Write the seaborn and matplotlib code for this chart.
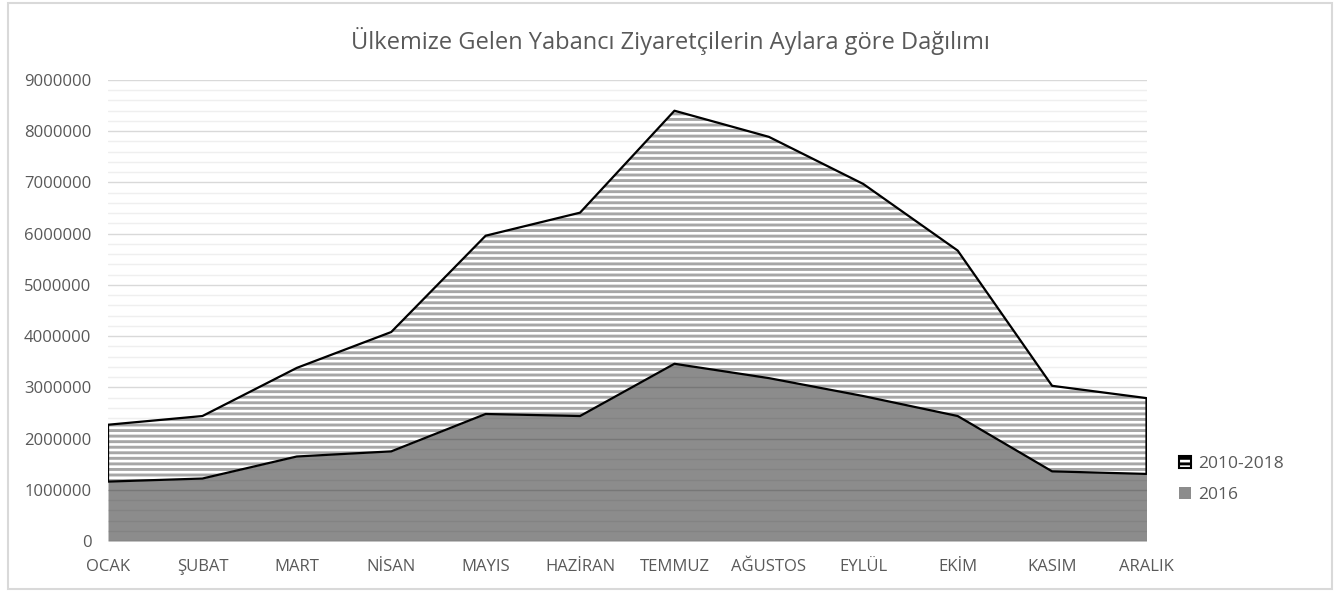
import matplotlib
matplotlib.use("Agg")
import matplotlib.pyplot as plt
import seaborn as sns
import pandas as pd
from matplotlib.patches import Patch, Rectangle
from matplotlib.ticker import MultipleLocator

# data
months = ["OCAK", "ŞUBAT", "MART", "NİSAN", "MAYIS", "HAZİRAN",
          "TEMMUZ", "AĞUSTOS", "EYLÜL", "EKİM", "KASIM", "ARALIK"]
total_2010_2018 = [2270000, 2440000, 3380000, 4080000, 5960000, 6410000,
                   8400000, 7890000, 6970000, 5670000, 3030000, 2790000]
visitors_2016 = [1160000, 1220000, 1650000, 1750000, 2480000, 2440000,
                 3460000, 3180000, 2830000, 2440000, 1360000, 1310000]

df = pd.DataFrame({"month": months,
                   "2010-2018": total_2010_2018,
                   "2016": visitors_2016})
df["x"] = range(len(df))

sns.set_theme(style="white")
plt.rcParams["font.family"] = ["Open Sans", "DejaVu Sans"]
plt.rcParams["hatch.linewidth"] = 2.1

text_color = "#595959"
fig = plt.figure(figsize=(13.4, 5.92), dpi=100)
ax = fig.add_axes([0.0806, 0.0861, 0.775, 0.7788])

# hatched band between 2016 and the 2010-2018 line
ax.fill_between(df["x"], df["2016"], df["2010-2018"], facecolor="white",
                edgecolor="#a6a6a6", hatch="---", linewidth=0, zorder=2)
ax.fill_between(df["x"], 0, df["2016"], facecolor=(0, 0, 0, 0.45),
                linewidth=0, zorder=3)
ax.fill_between(df["x"], df["2016"], df["2010-2018"], facecolor="none",
                edgecolor="black", linewidth=1.6, zorder=4)

ax.set_xlim(0, len(months) - 1)
ax.set_ylim(0, 9000000)
ax.yaxis.set_major_locator(MultipleLocator(1000000))
ax.yaxis.set_minor_locator(MultipleLocator(200000))
ax.grid(which="major", axis="y", color="#d9d9d9", linewidth=1, zorder=0)
ax.grid(which="minor", axis="y", color="#efefef", linewidth=1, zorder=0)
ax.set_axisbelow(True)
for s in ax.spines.values():
    s.set_visible(False)

ax.set_xticks(df["x"])
ax.set_xticklabels(df["month"])
ax.set_yticks(range(0, 9000001, 1000000))
ax.set_yticklabels([str(v) for v in range(0, 9000001, 1000000)])
ax.tick_params(axis="x", pad=13)
ax.tick_params(axis="both", length=0, labelsize=12, labelcolor=text_color)
ax.tick_params(axis="y", pad=12)
ax.set_xlabel("")
ax.set_ylabel("")

fig.text(0.5, 0.93, "Ülkemize Gelen Yabancı Ziyaretçilerin Aylara göre Dağılımı",
         ha="center", va="center", fontsize=17, color=text_color)

handles = [Patch(facecolor="white", edgecolor="black", hatch="---", linewidth=1.5),
           Patch(facecolor="#8c8c8c", edgecolor="none")]
fig.legend(handles, ["2010-2018", "2016"], loc="center left",
           bbox_to_anchor=(0.868, 0.19), frameon=False, fontsize=12.5,
           handlelength=0.7, handleheight=0.7, handletextpad=0.4,
           labelspacing=0.85, labelcolor=text_color)

fig.add_artist(Rectangle((0.006, 0.005), 0.988, 0.99, transform=fig.transFigure,
                         fill=False, edgecolor="#d9d9d9", linewidth=1.5))

fig.savefig("out.png", dpi=100)
